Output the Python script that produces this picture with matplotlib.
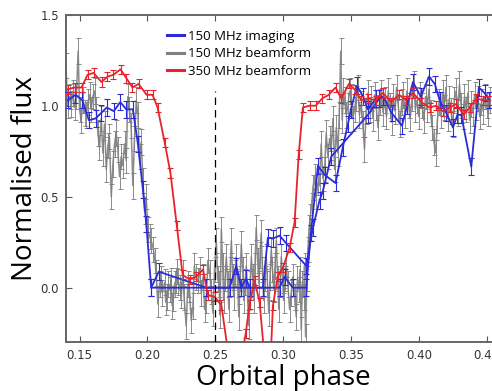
import matplotlib
matplotlib.use("Agg")
import matplotlib.pyplot as plt
from matplotlib.lines import Line2D

# 350 MHz beamform (red)
red_phase = [0.1412, 0.1463, 0.1515, 0.1559, 0.1603, 0.1662, 0.1706, 0.1750, 0.1802, 0.1846,
             0.1890, 0.1935, 0.1994, 0.2038, 0.2075, 0.2127, 0.2170, 0.2217, 0.2260, 0.2311,
             0.2360, 0.2410, 0.2445, 0.2495, 0.2545, 0.2594, 0.2640, 0.2680, 0.2725, 0.2753,
             0.2790, 0.2827, 0.2865, 0.2905, 0.2925, 0.2960, 0.2999, 0.3048, 0.3085, 0.3115,
             0.3146, 0.3195, 0.3240, 0.3289, 0.3337, 0.3387, 0.3429, 0.3485, 0.3527, 0.3577,
             0.3625, 0.3687, 0.3736, 0.3797, 0.3854, 0.3908, 0.3957, 0.4018, 0.4080, 0.4129,
             0.4178, 0.4227, 0.4277, 0.4330, 0.4375, 0.4424, 0.4473, 0.4520]
red_flux = [1.09, 1.10, 1.10, 1.17, 1.18, 1.13, 1.16, 1.17, 1.20, 1.15,
            1.10, 1.12, 1.06, 1.06, 0.99, 0.80, 0.63, 0.34, 0.07, 0.045,
            0.06, 0.10, -0.04, -0.05, -0.095, -0.35, -0.50, -0.45, -0.25, -0.09,
            0.04, -0.08, -0.40, -0.45, -0.10, 0.06, 0.11, 0.22, 0.36, 0.73,
            0.99, 1.00, 1.00, 1.04, 1.06, 1.10, 1.04, 1.12, 1.09, 1.03,
            1.04, 1.03, 1.07, 1.02, 1.06, 1.03, 1.07, 1.02, 0.99, 1.00,
            0.97, 0.99, 1.01, 0.95, 0.99, 1.04, 1.03, 1.03]
red_err = 0.025

# 150 MHz imaging (blue), two overlapping passes
blue1_phase = [0.1414, 0.1470, 0.1520, 0.1569, 0.1618, 0.1660, 0.1700, 0.1753, 0.1800, 0.1844,
               0.1893, 0.1930, 0.1967, 0.1992, 0.2028, 0.2606, 0.2655, 0.2692, 0.2728, 0.2753,
               0.2974, 0.3011, 0.3071, 0.3171, 0.3205, 0.3257, 0.3306, 0.3387, 0.3440, 0.3478,
               0.3500, 0.3545, 0.3590, 0.3625, 0.3686, 0.3740, 0.3800, 0.3876, 0.3915, 0.3957,
               0.4015, 0.4075, 0.4118, 0.4154, 0.4203, 0.4252, 0.4285, 0.4313, 0.4387, 0.4443,
               0.4485, 0.4520]
blue1_flux = [1.03, 1.06, 1.03, 0.92, 0.93, 0.96, 0.99, 0.97, 1.02, 0.98,
              0.98, 0.79, 0.54, 0.35, 0.00, 0.00, 0.12, 0.00, 0.05, 0.00,
              0.00, 0.06, 0.00, 0.00, 0.30, 0.67, 0.62, 0.575, 0.77, 0.90,
              0.98, 1.11, 1.05, 0.98, 1.04, 1.05, 0.96, 0.89, 1.00, 1.13,
              1.05, 1.16, 1.12, 1.03, 0.96, 0.88, 0.95, 0.95, 0.665, 1.10,
              1.07, 1.03]
blue2_phase = [0.2028, 0.2084, 0.2434, 0.2851, 0.2888, 0.2925, 0.2974, 0.3023, 0.3171, 0.3220,
               0.3269, 0.3293, 0.3355, 0.3626, 0.3710]
blue2_flux = [0.00, 0.088, 0.00, 0.00, 0.275, 0.27, 0.286, 0.244, 0.12, 0.33,
              0.48, 0.53, 0.72, 0.95, 1.04]
blue_err = 0.045

# 150 MHz beamform (grey)
grey_phase = [0.1400, 0.1412, 0.1426, 0.1439, 0.1451, 0.1463, 0.1476, 0.1490, 0.1500, 0.1512,
              0.1525, 0.1537, 0.1550, 0.1562, 0.1574, 0.1586, 0.1598, 0.1611, 0.1623, 0.1635,
              0.1647, 0.1660, 0.1672, 0.1684, 0.1697, 0.1709, 0.1720, 0.1734, 0.1746, 0.1758,
              0.1770, 0.1782, 0.1795, 0.1807, 0.1819, 0.1832, 0.1844, 0.1856, 0.1868, 0.1880,
              0.1893, 0.1905, 0.1918, 0.1930, 0.1942, 0.1955, 0.1967, 0.1979, 0.1991, 0.2004,
              0.2016, 0.2028, 0.2045, 0.2055, 0.2065, 0.2077, 0.2090, 0.2100, 0.2110, 0.2127,
              0.2135, 0.2144, 0.2155, 0.2164, 0.2175, 0.2183, 0.2192, 0.2200, 0.2210, 0.2217,
              0.2228, 0.2237, 0.2250, 0.2261, 0.2270, 0.2286, 0.2298, 0.2310, 0.2323, 0.2336,
              0.2346, 0.2355, 0.2372, 0.2385, 0.2397, 0.2410, 0.2422, 0.2434, 0.2446, 0.2459,
              0.2471, 0.2483, 0.2495, 0.2508, 0.2518, 0.2528, 0.2536, 0.2545, 0.2555, 0.2562,
              0.2572, 0.2582, 0.2592, 0.2601, 0.2610, 0.2619, 0.2628, 0.2636, 0.2646, 0.2655,
              0.2665, 0.2674, 0.2683, 0.2692, 0.2702, 0.2711, 0.2720, 0.2729, 0.2738, 0.2748,
              0.2757, 0.2766, 0.2775, 0.2783, 0.2793, 0.2802, 0.2812, 0.2822, 0.2830, 0.2839,
              0.2848, 0.2857, 0.2866, 0.2876, 0.2885, 0.2895, 0.2904, 0.2913, 0.2922, 0.2932,
              0.2941, 0.2950, 0.2960, 0.2969, 0.2978, 0.2987, 0.2996, 0.3004, 0.3013, 0.3023,
              0.3035, 0.3048, 0.3060, 0.3072, 0.3085, 0.3097, 0.3106, 0.3116, 0.3125, 0.3134,
              0.3142, 0.3151, 0.3158, 0.3166, 0.3175, 0.3183, 0.3192, 0.3201, 0.3210, 0.3220,
              0.3232, 0.3245, 0.3257, 0.3269, 0.3281, 0.3293, 0.3306, 0.3318, 0.3330, 0.3343,
              0.3355, 0.3368, 0.3380, 0.3392, 0.3404, 0.3414, 0.3425, 0.3436, 0.3445, 0.3453,
              0.3466, 0.3478, 0.3490, 0.3500, 0.3514, 0.3527, 0.3538, 0.3550, 0.3563, 0.3576,
              0.3588, 0.3600, 0.3612, 0.3625, 0.3637, 0.3650, 0.3662, 0.3675, 0.3687, 0.3700,
              0.3712, 0.3725, 0.3737, 0.3750, 0.3762, 0.3775, 0.3787, 0.3800, 0.3812, 0.3825,
              0.3837, 0.3850, 0.3862, 0.3875, 0.3887, 0.3900, 0.3912, 0.3925, 0.3937, 0.3950,
              0.3962, 0.3975, 0.3987, 0.4000, 0.4012, 0.4025, 0.4037, 0.4050, 0.4062, 0.4075,
              0.4087, 0.4100, 0.4112, 0.4125, 0.4137, 0.4150, 0.4162, 0.4175, 0.4187, 0.4200,
              0.4212, 0.4225, 0.4237, 0.4250, 0.4262, 0.4275, 0.4287, 0.4300, 0.4312, 0.4325,
              0.4337, 0.4350, 0.4362, 0.4375, 0.4387, 0.4400, 0.4412, 0.4425, 0.4437, 0.4450,
              0.4462, 0.4475, 0.4487, 0.4500, 0.4512, 0.4525]
grey_flux = [1.22, 1.00, 1.05, 1.01, 1.07, 0.99, 1.05, 1.30, 0.98, 0.92,
             1.03, 0.96, 0.95, 1.02, 1.06, 0.98, 1.05, 1.08, 0.98, 0.85,
             0.77, 0.93, 0.74, 0.90, 0.65, 0.78, 0.83, 0.50, 0.68, 0.79,
             0.85, 0.76, 0.61, 0.72, 0.67, 0.79, 0.70, 1.05, 0.98, 0.89,
             0.56, 0.82, 1.03, 0.95, 0.72, 0.80, 0.59, 0.42, 0.50, 0.32,
             0.28, 0.26, 0.21, 0.15, 0.08, -0.09, 0.02, 0.05, -0.03, 0.03,
             -0.08, -0.05, 0.02, -0.01, 0.04, -0.10, -0.06, 0.02, 0.04, 0.09,
             0.03, 0.00, -0.04, 0.08, -0.05, -0.21, 0.02, -0.01, -0.18, -0.10,
             0.12, 0.06, 0.04, 0.10, -0.03, 0.06, -0.12, -0.07, 0.15, 0.08,
             -0.02, -0.14, 0.10, 0.26, 0.05, 0.02, -0.15, 0.32, 0.12, -0.07,
             0.05, 0.17, 0.02, -0.12, 0.10, 0.26, 0.06, -0.05, 0.08, 0.17,
             0.02, -0.16, 0.05, 0.24, 0.10, -0.07, 0.03, 0.12, -0.05, -0.21,
             0.02, 0.17, 0.06, -0.07, 0.12, 0.33, 0.15, 0.02, 0.18, 0.30,
             0.10, -0.07, 0.05, 0.17, 0.02, -0.14, 0.06, 0.21, 0.10, -0.01,
             0.12, 0.26, 0.05, -0.12, 0.02, 0.17, 0.04, -0.07, 0.05, 0.13,
             0.02, -0.12, -0.03, 0.06, -0.05, -0.16, 0.05, -0.01, 0.10, -0.23,
             0.02, -0.05, 0.12, -0.27, 0.05, 0.21, 0.33, 0.39, 0.45, 0.55,
             0.61, 0.50, 0.58, 0.56, 0.79, 0.60, 0.65, 0.85, 0.72, 0.82,
             0.77, 0.93, 0.65, 0.88, 0.74, 0.95, 1.30, 0.92, 1.08, 1.03,
             0.95, 1.00, 1.08, 1.05, 0.93, 0.98, 1.04, 1.10, 0.95, 1.01,
             0.90, 0.76, 0.97, 1.07, 0.98, 1.04, 0.93, 1.06, 0.99, 0.88,
             1.02, 1.07, 0.96, 1.03, 0.94, 1.08, 1.00, 0.91, 1.05, 0.97,
             1.10, 0.99, 0.90, 1.02, 1.06, 0.95, 1.08, 1.00, 0.93, 1.04,
             1.12, 0.98, 1.03, 0.94, 1.06, 1.00, 0.92, 1.05, 0.98, 1.09,
             0.96, 0.88, 0.80, 0.74, 0.92, 1.02, 0.95, 1.07, 0.99, 1.10,
             0.93, 1.04, 0.97, 0.90, 1.03, 1.08, 0.96, 1.12, 1.00, 0.94,
             1.05, 0.98, 1.07, 0.92, 1.01, 0.96, 1.06, 0.99, 1.04, 0.94,
             1.02, 0.97, 1.05, 1.00, 0.96, 1.03]
grey_err = 0.07

eclipse_centre = 0.25
x_ticks = [0.15, 0.20, 0.25, 0.30, 0.35, 0.40, 0.45]
y_ticks = [0.0, 0.5, 1.0, 1.5]

blue_c = '#2b2bd9'
grey_c = '#808080'
red_c = '#e8232b'

fig = plt.figure(figsize=(4.92, 3.91), dpi=100)
ax = fig.add_axes([0.1341, 0.1246, 0.8825, 0.8378])

ax.errorbar(grey_phase, grey_flux, yerr=grey_err, color=grey_c, lw=1.1,
            elinewidth=0.7, capsize=1.8, capthick=0.7, alpha=0.9, zorder=2)
for ph, fl in [(blue1_phase, blue1_flux), (blue2_phase, blue2_flux)]:
    ax.errorbar(ph, fl, yerr=blue_err, color=blue_c, lw=1.3,
                elinewidth=0.8, capsize=2.2, capthick=0.8, zorder=3)
ax.errorbar(red_phase, red_flux, yerr=red_err, color=red_c, lw=1.3,
            elinewidth=0.8, capsize=2.2, capthick=0.8, zorder=4)

ax.plot([eclipse_centre, eclipse_centre], [-0.3, 1.08], color='k', lw=0.9,
        dashes=(6, 4), zorder=5)

ax.set_xlim(0.14, 0.46)
ax.set_ylim(-0.3, 1.5)
ax.set_xticks(x_ticks)
ax.set_yticks(y_ticks)
ax.set_xticklabels(['%.2f' % t for t in x_ticks])
ax.set_yticklabels(['%.1f' % t for t in y_ticks])
ax.tick_params(direction='in', length=4, width=0.8, color='#555555',
               labelsize=8.5, labelcolor='#333333', top=True, right=True, pad=5)
for s in ax.spines.values():
    s.set_color('#666666')
    s.set_linewidth(1.4)

ax.set_xlabel('Orbital phase', fontsize=20, family='Open Sans', labelpad=1)
ax.set_ylabel('Normalised flux', fontsize=20, family='Open Sans', labelpad=1)

handles = [Line2D([], [], color=blue_c, lw=2.2),
           Line2D([], [], color=grey_c, lw=2.2),
           Line2D([], [], color=red_c, lw=2.2)]
labels = ['150 MHz imaging', '150 MHz beamform', '350 MHz beamform']
ax.legend(handles, labels, loc='upper left', bbox_to_anchor=(0.22, 0.97),
          frameon=False, prop={'family': 'Open Sans', 'size': 9.5},
          handlelength=1.3, handletextpad=0.3, labelspacing=0.35, borderaxespad=0)

fig.savefig('out.png', dpi=100)
